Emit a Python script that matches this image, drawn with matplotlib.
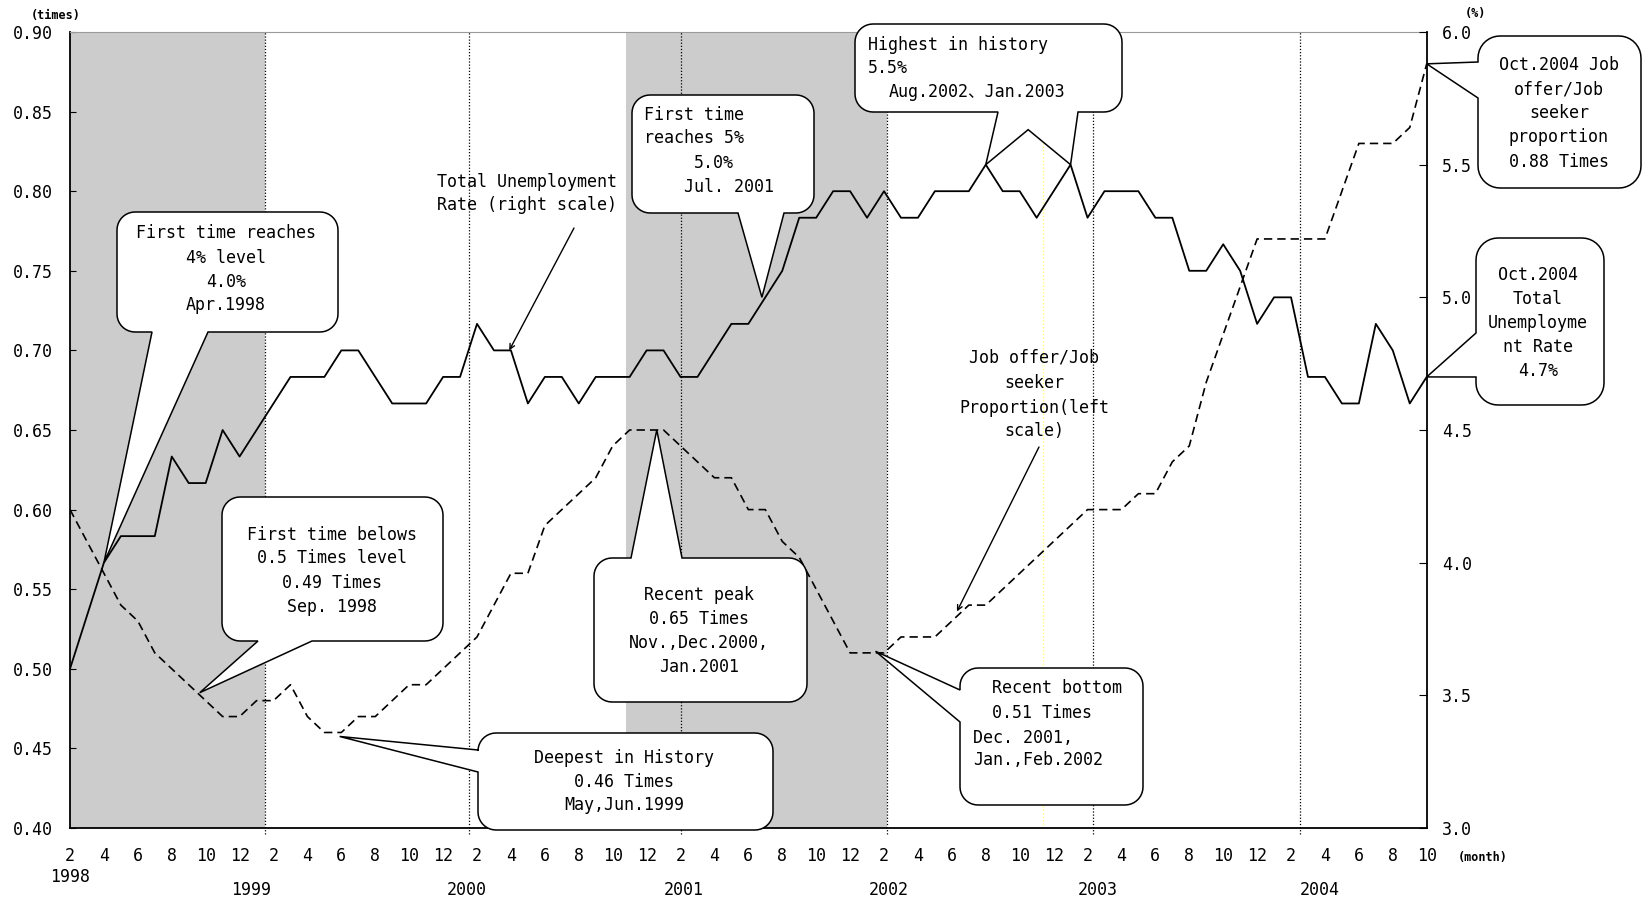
import numpy as np
import matplotlib
matplotlib.use("Agg")
import matplotlib.pyplot as plt
from matplotlib.path import Path
from matplotlib.patches import PathPatch, FancyArrowPatch
from matplotlib.transforms import IdentityTransform

W, H = 1649, 901
FONT = ["DejaVu Sans Mono", "Noto Sans CJK JP"]
plt.rcParams['font.family'] = FONT
FS = 12

# months counted from Feb 1998 (0) to Oct 2004 (80)
MONTHS = np.arange(81)
# job offer / job seeker proportion (left scale, times)
RATIO = [0.60, 0.58, 0.56, 0.54, 0.53, 0.51, 0.50, 0.49, 0.48, 0.47, 0.47, 0.48, 0.48,
         0.49, 0.47, 0.46, 0.46, 0.47, 0.47, 0.48, 0.49, 0.49, 0.50, 0.51,
         0.52, 0.54, 0.56, 0.56, 0.59, 0.60, 0.61, 0.62, 0.64, 0.65, 0.65, 0.65,
         0.64, 0.63, 0.62, 0.62, 0.60, 0.60, 0.58, 0.57, 0.55, 0.53, 0.51, 0.51,
         0.51, 0.52, 0.52, 0.52, 0.53, 0.54, 0.54, 0.55, 0.56, 0.57, 0.58, 0.59,
         0.60, 0.60, 0.60, 0.61, 0.61, 0.63, 0.64, 0.68, 0.71, 0.74, 0.77, 0.77,
         0.77, 0.77, 0.77, 0.80, 0.83, 0.83, 0.83, 0.84, 0.88]
# total unemployment rate (right scale, %)
UNEMP = [3.6, 3.8, 4.0, 4.1, 4.1, 4.1, 4.4, 4.3, 4.3, 4.5, 4.4, 4.5, 4.6,
         4.7, 4.7, 4.7, 4.8, 4.8, 4.7, 4.6, 4.6, 4.6, 4.7, 4.7,
         4.9, 4.8, 4.8, 4.6, 4.7, 4.7, 4.6, 4.7, 4.7, 4.7, 4.8, 4.8,
         4.7, 4.7, 4.8, 4.9, 4.9, 5.0, 5.1, 5.3, 5.3, 5.4, 5.4, 5.3,
         5.4, 5.3, 5.3, 5.4, 5.4, 5.4, 5.5, 5.4, 5.4, 5.3, 5.4, 5.5,
         5.3, 5.4, 5.4, 5.4, 5.3, 5.3, 5.1, 5.1, 5.2, 5.1, 4.9, 5.0,
         5.0, 4.7, 4.7, 4.6, 4.6, 4.9, 4.8, 4.6, 4.7]
YEARS = ["1998", "1999", "2000", "2001", "2002", "2003", "2004"]
YEAR_POS = [0, 10.7, 23.4, 36.2, 48.3, 60.6, 73.7]
YEAR_LINES = [11.5, 23.5, 36.0, 48.15, 60.3, 72.5]
RECESSIONS = [(0, 11.5), (32.8, 48.15)]

fig = plt.figure(figsize=(W / 100, H / 100), dpi=100)
ax = fig.add_axes([70 / W, 1 - 828 / H, (1426.7 - 70) / W, (828 - 32) / H])
ax2 = ax.twinx()

for a, b in RECESSIONS:
    ax.axvspan(a, b, color="#cccccc", lw=0, zorder=0)
for x in YEAR_LINES:
    ax.axvline(x, ymin=-0.008, color="black", lw=0.9, linestyle=(0, (1, 1.5)),
               zorder=1, clip_on=False)
ax.axvline(57.4, color="#ffff80", lw=1, linestyle=(0, (1, 1.5)), zorder=1)

ax.plot(MONTHS, RATIO, color="black", lw=1.2, linestyle=(0, (5, 3)), zorder=3)
ax2.plot(MONTHS, UNEMP, color="black", lw=1.3, zorder=3)

ax.set_xlim(0, 80)
ax.set_ylim(0.40, 0.90)
ax2.set_ylim(3.0, 6.0)

yt = np.arange(0.40, 0.901, 0.05)
ax.set_yticks(yt)
ax.set_yticklabels([f"{v:.2f}" for v in yt], fontsize=FS)
yt2 = np.arange(3.0, 6.01, 0.5)
ax2.set_yticks(yt2)
ax2.set_yticklabels([f"{v:.1f}" for v in yt2], fontsize=FS)
ax.tick_params(axis="y", direction="in", length=4, pad=12)
ax2.tick_params(axis="y", direction="in", length=6, pad=11)

xt = MONTHS[::2]
ax.set_xticks(xt)
ax.set_xticklabels([str((i + 1) % 12 + 1) for i in xt], fontsize=FS)
ax.tick_params(axis="x", length=0, pad=14)

for s in ["top", "right", "left", "bottom"]:
    ax2.spines[s].set_visible(s == "right")
ax.spines["right"].set_visible(False)
ax.spines["top"].set_color("#9a9a9a")
for s in ["left", "bottom"]:
    ax.spines[s].set_linewidth(1.3)
ax2.spines["right"].set_linewidth(1.3)

for lab, x in zip(YEARS, YEAR_POS):
    y = -0.0616 if lab == "1998" else -0.0779
    ax.text(x, y, lab, transform=ax.get_xaxis_transform(), ha="center", va="center",
            fontsize=FS)

PIX = IdentityTransform()


def to_img(axis, x, y):
    dx, dy = axis.transData.transform((x, y))
    return dx, H - dy


def put(x, y, s, ha="center", size=FS, weight="normal"):
    fig.text(x, H - y, s, transform=PIX, ha=ha, va="center", fontsize=size,
             fontweight=weight, zorder=7)


def callout(box, side, base, tips, r=18):
    x0, y0, x1, y1 = box
    pts = []

    def arc(cx, cy, a0, a1):
        for t in np.linspace(a0, a1, 10):
            pts.append((cx + r * np.cos(t), cy + r * np.sin(t)))

    arc(x0 + r, y0 + r, np.pi, 1.5 * np.pi)
    if side == "top":
        pts.extend([(base[0], y0)] + list(tips) + [(base[1], y0)])
    arc(x1 - r, y0 + r, 1.5 * np.pi, 2 * np.pi)
    arc(x1 - r, y1 - r, 0, 0.5 * np.pi)
    if side == "bottom":
        pts.extend([(base[1], y1)] + list(tips)[::-1] + [(base[0], y1)])
    arc(x0 + r, y1 - r, 0.5 * np.pi, np.pi)
    if side == "left":
        pts.extend([(x0, base[1])] + list(tips)[::-1] + [(x0, base[0])])
    pts.append(pts[0])
    verts = [(x, H - y) for x, y in pts]
    patch = PathPatch(Path(verts, closed=True), facecolor="white", edgecolor="black",
                      lw=1.1, transform=PIX, zorder=5)
    fig.add_artist(patch)


def arrow(start, tip):
    fig.add_artist(FancyArrowPatch((start[0], H - start[1]), (tip[0], H - tip[1]),
                                   arrowstyle="->", mutation_scale=9, lw=1,
                                   shrinkA=0, shrinkB=0, color="black",
                                   transform=PIX, zorder=6))


# callouts
callout((117, 212, 338, 332), "bottom", (152, 208), [to_img(ax2, 2, 4.0)])
for y, s in zip([233, 258, 282, 305], ["First time reaches", "4% level", "4.0%", "Apr.1998"]):
    put(226, y, s)

callout((222, 497, 443, 641), "bottom", (258, 312), [to_img(ax, 7.65, 0.485)])
for y, s in zip([535, 558, 583, 607],
                ["First time belows", "0.5 Times level", "0.49 Times", "Sep. 1998"]):
    put(332, y, s)

callout((478, 733, 773, 830), "left", (750, 772), [to_img(ax, 15.9, 0.4575)])
for y, s in zip([758, 782, 805], ["Deepest in History", "0.46 Times", "May,Jun.1999"]):
    put(624, y, s)

callout((594, 558, 807, 702), "top", (631, 682), [to_img(ax, 34.6, 0.65)])
for y, s in zip([595, 619, 643, 667],
                ["Recent peak", "0.65 Times", "Nov.,Dec.2000,", "Jan.2001"]):
    put(699, y, s)

callout((960, 668, 1143, 805), "left", (690, 722), [to_img(ax, 47.5, 0.511)])
for x, y, s in [(992, 688, "Recent bottom"), (992, 713, "0.51 Times"),
                (973, 738, "Dec. 2001,"), (973, 760, "Jan.,Feb.2002")]:
    put(x, y, s, ha="left")

t1 = to_img(ax2, 54, 5.5)
t2 = to_img(ax2, 59, 5.5)
notch = ((t1[0] + t2[0]) / 2, t1[1] - 35)
callout((855, 24, 1122, 112), "bottom", (998, 1078), [t1, notch, t2])
for x, y, s in [(868, 45, "Highest in history"), (868, 68, "5.5%"),
                (889, 92, "Aug.2002、Jan.2003")]:
    put(x, y, s, ha="left")

callout((632, 95, 814, 213), "bottom", (738, 784), [to_img(ax2, 40.8, 5.0)])
for x, y, s in [(644, 115, "First time"), (644, 138, "reaches 5%"),
                (694, 163, "5.0%"), (684, 187, "Jul. 2001")]:
    put(x, y, s, ha="left")

callout((1478, 36, 1641, 188), "left", (62, 98), [to_img(ax, 80, 0.88)], r=22)
for y, s in zip([65, 89, 113, 137, 162],
                ["Oct.2004 Job", "offer/Job", "seeker", "proportion", "0.88 Times"]):
    put(1559, y, s)

callout((1476, 238, 1604, 405), "left", (333, 377), [to_img(ax2, 80, 4.7)], r=22)
for y, s in zip([275, 299, 323, 347, 371],
                ["Oct.2004", "Total", "Unemployme", "nt Rate", "4.7%"]):
    put(1538, y, s)

# free annotations
put(437, 182, "Total Unemployment", ha="left")
put(437, 205, "Rate (right scale)", ha="left")
arrow((574, 228), to_img(ax2, 25.9, 4.8))

for y, s in zip([358, 383, 408, 431], ["Job offer/Job", "seeker", "Proportion(left", "scale)"]):
    put(1034, y, s)
arrow((1039, 447), to_img(ax, 52.3, 0.536))

put(56, 15, "(times)", size=8.5, weight="bold")
put(1475, 14, "(%)", size=8.5, weight="bold")
put(1483, 858, "(month)", size=8.5, weight="bold")

fig.savefig("out.png", dpi=100)
